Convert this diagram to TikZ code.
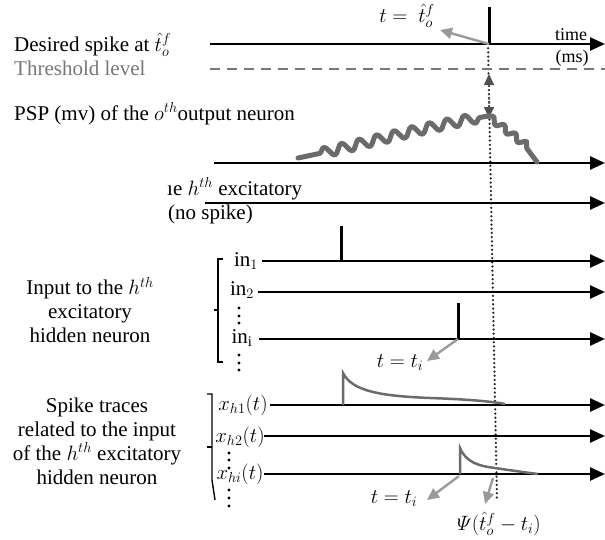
\documentclass[tikz,border=0pt]{standalone}
\usepackage{amsmath}
\usepackage{fontspec}
\setmainfont{Liberation Serif}
\usetikzlibrary{arrows.meta,decorations.pathmorphing}
\definecolor{tracegray}{HTML}{6B6B6B}
\definecolor{pointergray}{HTML}{9A9A9A}
\definecolor{thrgray}{HTML}{777777}
\definecolor{dblgray}{HTML}{505050}
\begin{document}
\begin{tikzpicture}[x=1pt,y=-1pt,
  axis/.style={line width=2.6pt, draw=black, -{Triangle[length=15pt,width=13pt]}},
  spikeline/.style={line width=3pt, draw=black},
  traceline/.style={line width=2.5pt, draw=tracegray},
  pointer/.style={line width=2.4pt, draw=pointergray, -{Triangle[length=12pt,width=11pt,fill=pointergray]}},
  lbl/.style={font=\fontsize{21}{24}\selectfont, inner sep=0pt},
  small/.style={font=\fontsize{18}{20}\selectfont, inner sep=0pt},
  dotcol/.style={fill=black},
  bracketline/.style={line width=1.4pt, draw=black}]
\useasboundingbox (0,0) rectangle (605,539);

% ---------- coordinates of axes ----------
\coordinate (a1s) at (210,44);  \coordinate (a1e) at (605,44);
\coordinate (ths) at (210,69);  \coordinate (the) at (605,69);
\coordinate (a2s) at (214,163); \coordinate (a2e) at (605,163);
\coordinate (a3s) at (205,203); \coordinate (a3e) at (605,203);
\coordinate (i1s) at (262,261); \coordinate (i1e) at (605,261);
\coordinate (i2s) at (258,292); \coordinate (i2e) at (605,292);
\coordinate (iis) at (259,339); \coordinate (iie) at (605,339);
\coordinate (x1s) at (270,405); \coordinate (x1e) at (605,405);
\coordinate (x2s) at (264,436); \coordinate (x2e) at (605,436);
\coordinate (xis) at (264,474); \coordinate (xie) at (605,474);

% ---------- dotted vertical at desired spike time ----------
\coordinate (dtop) at (488,44);
\coordinate (dbot) at (497,501);
\draw[line width=2.5pt, line cap=round, dash pattern=on 0pt off 4.2pt, draw=black!85] (dtop) -- (dbot);

% ---------- axes ----------
\draw[axis] (a1s) -- (a1e);
\draw[line width=2.4pt, draw=thrgray, dash pattern=on 10pt off 7pt] (ths) -- (the);
\draw[axis] (a2s) -- (a2e);
\draw[axis] (a3s) -- (a3e);
\draw[axis] (i1s) -- (i1e);
\draw[axis] (i2s) -- (i2e);
\draw[axis] (iis) -- (iie);
\draw[axis] (x1s) -- (x1e);
\draw[axis] (x2s) -- (x2e);
\draw[axis] (xis) -- (xie);

% ---------- spikes ----------
\coordinate (sp0t) at (489,7);   \coordinate (sp0b) at (489,44);
\coordinate (sp1t) at (341,226); \coordinate (sp1b) at (341,261);
\coordinate (sp2t) at (458,303); \coordinate (sp2b) at (458,339);
\draw[spikeline] (sp0t) -- (sp0b);
\draw[spikeline] (sp1t) -- (sp1b);
\draw[spikeline] (sp2t) -- (sp2b);

% ---------- threshold gap double arrow ----------
\coordinate (gapt) at (489,74);
\coordinate (gapb) at (489,118);
\draw[line width=1.6pt, draw=dblgray, dash pattern=on 2pt off 2pt,
  {Triangle[length=11pt,width=10pt,fill=dblgray]}-{Triangle[length=11pt,width=10pt,fill=dblgray]}] (gapt) -- (gapb);

% ---------- PSP wave ----------
\draw[line width=5pt, draw=tracegray, line cap=round, line join=round,
  decorate, decoration={snake, amplitude=5pt, segment length=18pt, pre length=22pt, post length=2pt}]
  (298,158) .. controls (340,150) and (400,132) .. (488,116);
\draw[line width=5pt, draw=tracegray, line cap=round, line join=round,
  decorate, decoration={snake, amplitude=3pt, segment length=14pt, post length=12pt}]
  (488,116) -- (522,142) -- (537,162);

% ---------- spike traces ----------
\draw[traceline] (343,405) -- (343,373)
  .. controls (352,391) and (380,396) .. (430,398)
  .. controls (460,399) and (490,401) .. (505,404);
\draw[traceline] (460,474) -- (460,448)
  .. controls (466,462) and (478,466) .. (495,468)
  .. controls (515,471) and (530,473) .. (538,474);

% ---------- brackets ----------
\draw[bracketline] (223,259) -- (218,259) -- (218,362) -- (223,362);
\draw[bracketline] (214,310) -- (218,310);
\draw[bracketline] (207,394) -- (212,394) -- (212,480) -- (215,500);
\draw[bracketline] (207,447) -- (212,447);

% ---------- vertical dots ----------
\foreach \yy in {308,316,323,355,363,370} \fill[dotcol] (239,\yy) circle (1.7pt);
\foreach \yy in {453,460,468,490,498,506} \fill[dotcol] (229,\yy) circle (1.7pt);

% ---------- left texts ----------
\node[lbl, anchor=base west] (desired) at (14,51) {Desired spike at $\hat{t}_o^f$};
\node[lbl, anchor=base west, text=thrgray] (thresh) at (14,75) {Threshold level};
\node[lbl, anchor=base west] (psp) at (14,120) {PSP (mv) of the $o^{th}$output neuron};
\node[lbl, anchor=base west] (hexc) at (167,195) {\i e $h^{th}$ excitatory};
\node[lbl, anchor=base west] (nospike) at (168,219) {(no spike)};
\node[lbl, align=center] (inputtxt) at (90,310) {Input to the $h^{th}$\\excitatory\\hidden neuron};
\node[lbl, align=center] (tracetxt) at (97,441) {Spike traces\\related to the input\\of the $h^{th}$ excitatory\\hidden neuron};

% ---------- axis labels ----------
\node[small, anchor=base] (timelbl) at (571,40) {time};
\node[small, anchor=base] (mslbl) at (572,62) {(ms)};
\node[lbl, anchor=base] (in1) at (246,266) {$\mathrm{in}_1$};
\node[lbl, anchor=base] (in2) at (242,295) {$\mathrm{in}_2$};
\node[lbl, anchor=base] (ini) at (242,343) {$\mathrm{in}_\mathrm{i}$};
\node[lbl] (xh1) at (243,405) {$x_{h1}(t)$};
\node[lbl] (xh2) at (240,437) {$x_{h2}(t)$};
\node[lbl] (xhi) at (240,474) {$x_{hi}(t)$};

% ---------- time annotations ----------
\node[lbl, anchor=base] (tdes) at (407,22) {$t =\ \hat{t}_o^f$};
\node[lbl] (ti1) at (400,363) {$t = t_i$};
\node[lbl] (ti2) at (394,499) {$t = t_i$};
\node[lbl] (psi) at (499,524) {$\varPsi(\hat{t}_o^f - t_i)$};

% ---------- pointer arrows ----------
\coordinate (p0) at (440,30);
\coordinate (p1) at (427,361);
\coordinate (p2) at (427,500);
\coordinate (p3s) at (493,478);
\coordinate (p3) at (485,504);
\draw[pointer] (sp0b) -- (p0);
\draw[pointer] (sp2b) -- (p1);
\draw[pointer] (459,476) -- (p2);
\draw[pointer] (p3s) -- (p3);
\end{tikzpicture}
\end{document}
